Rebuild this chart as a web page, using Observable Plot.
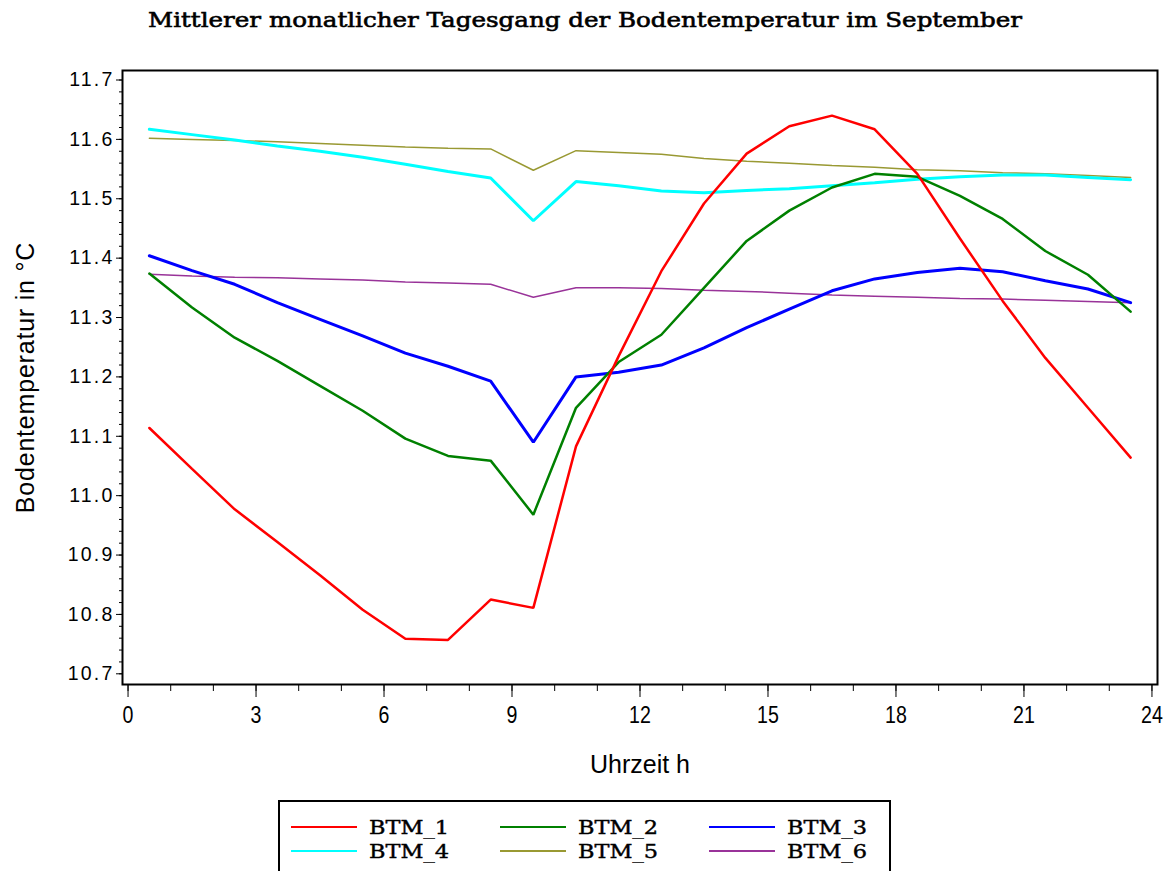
<!DOCTYPE html>
<html><head><meta charset="utf-8">
<script src="https://cdn.jsdelivr.net/npm/d3@7"></script>
<script src="https://cdn.jsdelivr.net/npm/@observablehq/plot@0.6"></script>
<style>
body{margin:0;background:#fff;}
#wrap{position:relative;width:1170px;height:871px;overflow:hidden;background:#fff;}
#chart,#title,#legend{position:absolute;left:0;top:0;}
#legend{left:278px;top:800px;}
</style></head><body><div id="wrap"><div id="chart"></div><svg id="title" width="1170" height="40"></svg><svg id="legend" width="614" height="90"></svg></div>
<script>
const titleText = "Mittlerer monatlicher Tagesgang der Bodentemperatur im September";
const xLabel = "Uhrzeit h";
const yLabel = "Bodentemperatur in °C";
const hours = [0.5,1.5,2.5,3.5,4.5,5.5,6.5,7.5,8.5,9.5,10.5,11.5,12.5,13.5,14.5,15.5,16.5,17.5,18.5,19.5,20.5,21.5,22.5,23.5];
const seriesNames = ["BTM_1","BTM_2","BTM_3","BTM_4","BTM_5","BTM_6"];
const seriesColors = ["#ff0000","#008000","#0000ff","#00ffff","#999933","#993399"];
const seriesWidths = [2.5,2.5,3,3,1.5,1.5];
const btm1 = [11.114,11.045,10.977,10.922,10.866,10.808,10.759,10.757,10.825,10.811,11.083,11.235,11.378,11.492,11.576,11.622,11.640,11.617,11.542,11.433,11.328,11.232,11.148,11.064];
const btm2 = [11.374,11.317,11.266,11.227,11.185,11.143,11.096,11.067,11.059,10.968,11.148,11.225,11.271,11.350,11.429,11.480,11.519,11.542,11.537,11.505,11.466,11.412,11.372,11.310];
const btm3 = [11.404,11.379,11.356,11.325,11.297,11.269,11.240,11.218,11.193,11.090,11.200,11.208,11.220,11.249,11.283,11.314,11.345,11.365,11.376,11.383,11.377,11.362,11.348,11.325];
const btm4 = [11.617,11.608,11.599,11.589,11.580,11.570,11.558,11.546,11.535,11.463,11.529,11.522,11.513,11.510,11.514,11.517,11.522,11.527,11.533,11.537,11.540,11.540,11.536,11.532];
const btm5 = [11.602,11.600,11.598,11.596,11.593,11.590,11.587,11.585,11.584,11.548,11.581,11.578,11.575,11.568,11.563,11.560,11.556,11.553,11.549,11.547,11.544,11.542,11.539,11.536];
const btm6 = [11.373,11.370,11.368,11.367,11.365,11.363,11.360,11.358,11.356,11.334,11.350,11.350,11.349,11.346,11.344,11.341,11.338,11.336,11.334,11.332,11.331,11.329,11.327,11.325];
const yTicks = [10.7,10.8,10.9,11.0,11.1,11.2,11.3,11.4,11.5,11.6,11.7];
const xTicks = [0,3,6,9,12,15,18,21,24];

const allSeries = [btm1,btm2,btm3,btm4,btm5,btm6];
const rows = [];
allSeries.forEach((vals,i)=>vals.forEach((v,j)=>rows.push({series:seriesNames[i], hour:hours[j], value:v})));
const yMinor = d3.range(0,51).map(k=>+(10.7+k*0.02).toFixed(2));
const xMinor = d3.range(0,25);

const lineMarks = seriesNames.map((s,i)=>Plot.line(rows.filter(r=>r.series===s),{x:"hour",y:"value",stroke:seriesColors[i],strokeWidth:seriesWidths[i],strokeLinejoin:"miter"})).reverse();

const chart = Plot.plot({
  width:1170, height:800,
  marginLeft:122, marginRight:13, marginTop:70, marginBottom:116,
  style:{fontFamily:"'Liberation Sans', Arial, sans-serif", color:"#000", background:"transparent"},
  x:{domain:[-0.13,24.13]},
  y:{domain:[10.682,11.716]},
  marks:[
    Plot.axisY(yMinor,{tickSize:3,text:null,label:null}),
    Plot.axisY(yTicks,{tickSize:6,tickPadding:2,fontSize:19.5,tickFormat:d=>d.toFixed(1),label:yLabel,labelAnchor:"center",labelArrow:"none",labelOffset:106}),
    Plot.axisX(xMinor,{tickSize:7,text:null,label:null}),
    Plot.axisX(xTicks,{tickSize:13,tickPadding:9,fontSize:23,label:xLabel,labelAnchor:"center",labelArrow:"none",labelOffset:88}),
    ...lineMarks,
    Plot.frame({stroke:"#000",strokeWidth:2})
  ]
});
document.getElementById("chart").appendChild(chart);
chart.querySelectorAll("g[aria-label='y-axis label'] text").forEach(t=>{t.setAttribute("font-size","25");t.style.letterSpacing="0.8px";});
chart.querySelectorAll("g[aria-label='x-axis label'] text").forEach(t=>{t.setAttribute("font-size","25");});
chart.querySelectorAll("g[aria-label='y-axis tick label'] text").forEach(t=>{t.style.letterSpacing="2.2px";});
chart.querySelectorAll("g[aria-label='x-axis tick label'] text").forEach(t=>{
  const len=t.getComputedTextLength();
  t.setAttribute("textLength",(len*0.85).toFixed(1));
  t.setAttribute("lengthAdjust","spacingAndGlyphs");
});

// title
const ns="http://www.w3.org/2000/svg";
const tsvg=document.getElementById("title");
const tt=document.createElementNS(ns,"text");
tt.setAttribute("x",585);tt.setAttribute("y",27);tt.setAttribute("text-anchor","middle");
tt.setAttribute("font-family","'DejaVu Serif', serif");tt.setAttribute("font-size","21");
tt.setAttribute("stroke","#000");tt.setAttribute("stroke-width","0.6");
tt.setAttribute("textLength","874");tt.setAttribute("lengthAdjust","spacingAndGlyphs");
tt.textContent=titleText;tsvg.appendChild(tt);

// legend
const lg=document.getElementById("legend");
const rect=document.createElementNS(ns,"rect");
rect.setAttribute("x",1);rect.setAttribute("y",1);rect.setAttribute("width",611);rect.setAttribute("height",100);
rect.setAttribute("fill","none");rect.setAttribute("stroke","#000");rect.setAttribute("stroke-width","2");
lg.appendChild(rect);
seriesNames.forEach((s,i)=>{
  const col=i%3,row=Math.floor(i/3);
  const x0=13+col*209, y0=27+row*24;
  const ln=document.createElementNS(ns,"line");
  ln.setAttribute("x1",x0);ln.setAttribute("x2",x0+66);ln.setAttribute("y1",y0);ln.setAttribute("y2",y0);
  ln.setAttribute("stroke",seriesColors[i]);ln.setAttribute("stroke-width","2");
  lg.appendChild(ln);
  const tx=document.createElementNS(ns,"text");
  tx.setAttribute("x",x0+78);tx.setAttribute("y",y0+7);
  tx.setAttribute("font-family","'DejaVu Serif', serif");tx.setAttribute("font-size","19");
  tx.setAttribute("stroke","#000");tx.setAttribute("stroke-width","0.4");
  tx.setAttribute("textLength","80");tx.setAttribute("lengthAdjust","spacingAndGlyphs");
  tx.textContent=s;lg.appendChild(tx);
});
</script></body></html>
